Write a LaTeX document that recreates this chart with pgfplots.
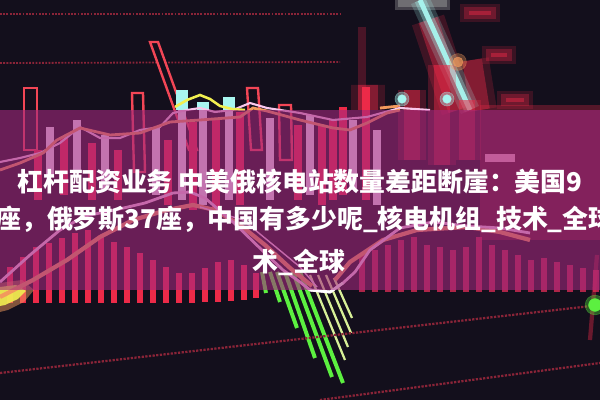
\documentclass[border=0pt]{standalone}
\usepackage{fontspec}
\usepackage{pgfplots}
\pgfplotsset{compat=1.18}
\newfontfamily\cjk{Noto Sans CJK SC}
\definecolor{bg}{HTML}{130F1C}
\definecolor{dotred}{HTML}{8A2438}
\definecolor{redbar}{HTML}{EC2A48}
\definecolor{redbar2}{HTML}{C82A50}
\definecolor{hollow}{HTML}{F24656}
\definecolor{lav}{HTML}{F4E4FA}
\definecolor{cyanbar}{HTML}{A8F6F0}
\definecolor{bandc}{HTML}{A3287E}
\definecolor{orangel}{HTML}{F29A5C}
\definecolor{pinkl}{HTML}{FAC8EC}
\definecolor{yell}{HTML}{F2F050}
\definecolor{greenb}{HTML}{5CF040}
\definecolor{yelgreen}{HTML}{D8F098}
\begin{document}
\begin{tikzpicture}
\begin{axis}[scale only axis, width=15cm, height=10cm,
  xmin=0, xmax=600, ymin=0, ymax=400, y dir=reverse,
  hide axis, clip=true, unbounded coords=jump]
% background
\addplot[fill=bg, draw=none] coordinates {(0,0)(600,0)(600,400)(0,400)} -- cycle;
% top dotted lines
\addplot[draw=dotred, densely dotted, line width=1.3pt] coordinates {(0,14)(340,14)};
\addplot[draw=dotred, densely dotted, line width=1.3pt] coordinates {(0,63)(340,62)};
% right top blurred glows
\addplot[draw=redbar, line width=13pt, opacity=0.18] coordinates {(460,13)(500,13)(0,nan)(482,55)(516,55)(0,nan)(497,100)(533,100)};
\addplot[draw=redbar, line width=8pt, opacity=0.3] coordinates {(464,13)(496,13)(0,nan)(486,55)(512,55)(0,nan)(501,100)(529,100)};
\addplot[draw=redbar, line width=3.5pt, opacity=0.45] coordinates {(469,13)(491,13)(0,nan)(491,55)(507,55)(0,nan)(506,100)(524,100)};
\addplot[draw=redbar, line width=24pt, opacity=0.2] coordinates {(428,20)(458,110)(0,nan)(472,60)(480,110)(0,nan)(368,85)(368,110)};
\addplot[draw=redbar, line width=14pt, opacity=0.4] coordinates {(428,20)(458,110)(0,nan)(472,60)(480,110)(0,nan)(368,85)(368,110)};
\addplot[draw=redbar, line width=5pt, opacity=0.25] coordinates {(362,27)(362,110)};
\addplot[draw=gray!70, line width=10pt, opacity=0.35] coordinates {(395,3)(450,3)};
\addplot[draw=gray!80, line width=5pt, opacity=0.5] coordinates {(398,3)(447,3)};
\addplot[draw=cyanbar, line width=14pt, opacity=0.2] coordinates {(420,0)(470,110)};
\addplot[draw=cyanbar, line width=8pt, opacity=0.35] coordinates {(420,0)(470,110)};
\addplot[draw=cyanbar, line width=3.5pt, opacity=0.95] coordinates {(420,0)(470,110)};
\addplot[only marks, mark=*, mark size=6pt, color=orangel, opacity=0.35] coordinates {(458,62)};
\addplot[only marks, mark=*, mark size=3.5pt, color=orangel, opacity=0.7] coordinates {(458,62)};
\addplot[only marks, mark=*, mark size=5pt, color=cyanbar, opacity=0.4] coordinates {(402,99)(447,99)};
\addplot[only marks, mark=*, mark size=3pt, color=cyanbar] coordinates {(402,99)(447,99)};
\addplot[draw=orangel, line width=2pt] coordinates {(380,108)(400,106)};
% hollow bars
\addplot[draw=hollow, line width=1.7pt, fill=bg] coordinates {(24,88)(37,88)(37,150)(24,150)} -- cycle;
\addplot[draw=hollow, line width=1.7pt, fill=bg] coordinates {(132,93)(143,93)(145,172)(134,172)} -- cycle;
\addplot[draw=hollow, line width=1.7pt, fill=bg] coordinates {(150,42)(158,42)(197,150)(189,150)} -- cycle;
\addplot[draw=hollow, line width=1.7pt, fill=bg] coordinates {(247,88)(258,88)(262,150)(251,150)} -- cycle;
\addplot[draw=hollow, line width=1.7pt, fill=bg] coordinates {(279,105)(291,105)(292,160)(280,160)} -- cycle;
% cyan bar tops
\addplot[draw=cyanbar, line width=8.5pt] coordinates {(182,90)(182,110)(0,nan)(203,102)(203,110)(0,nan)(229,97)(229,110)};
% lavender bars
\addplot[draw=lav, line width=6pt] coordinates {(50,127)(50,175)(0,nan)(77,120)(77,170)(0,nan)(105,135)(105,190)(0,nan)(156,128)(156,195)(0,nan)(182,110)(182,200)(0,nan)(203,110)(203,205)(0,nan)(229,110)(229,200)(0,nan)(270,118)(270,200)(0,nan)(310,115)(310,195)(0,nan)(353,120)(353,190)(0,nan)(377,130)(377,205)(0,nan)(485,158)(515,158)};
% red bars upper cluster
\addplot[draw=redbar, line width=5.5pt] coordinates {(38,150)(38,200)(0,nan)(64,137)(64,195)(0,nan)(92,143)(92,200)(0,nan)(118,150)(118,200)(0,nan)(168,140)(168,205)(0,nan)(193,122)(193,210)(0,nan)(216,118)(216,210)(0,nan)(240,112)(240,205)(0,nan)(298,125)(298,200)(0,nan)(322,125)(322,205)(0,nan)(333,120)(333,200)(0,nan)(343,107)(343,195)(0,nan)(366,87)(366,200)};
\addplot[draw=redbar, line width=20pt, opacity=0.25] coordinates {(412,90)(412,160)(0,nan)(442,65)(442,165)(0,nan)(467,100)(467,160)};
\addplot[draw=redbar, line width=11pt, opacity=0.45] coordinates {(412,90)(412,160)(0,nan)(442,65)(442,165)(0,nan)(467,100)(467,160)};
% right glow
\addplot[fill=redbar, draw=none, opacity=0.3] coordinates {(480,105)(600,105)(600,240)(480,240)} -- cycle;
% lower red bars
\addplot[draw=redbar, line width=4.3pt] coordinates {(10,267)(10,303)(0,nan)(23,257)(23,303)(0,nan)(36,247)(36,303)(0,nan)(49,243)(49,303)(0,nan)(62,238)(62,303)(0,nan)(75,233)(75,303)(0,nan)(88,230)(88,303)(0,nan)(101,237)(101,303)(0,nan)(114,242)(114,303)(0,nan)(127,247)(127,303)(0,nan)(140,253)(140,303)(0,nan)(153,260)(153,303)(0,nan)(166,267)(166,303)(0,nan)(179,273)(179,303)(0,nan)(192,273)(192,303)(0,nan)(205,268)(205,302)(0,nan)(218,262)(218,302)(0,nan)(231,260)(231,301)(0,nan)(244,265)(244,300)(0,nan)(256,273)(256,298)};
\addplot[draw=redbar2, line width=4pt, opacity=0.85] coordinates {(362,255)(362,292)(0,nan)(375,250)(375,292)(0,nan)(388,245)(388,292)(0,nan)(401,240)(401,292)(0,nan)(414,237)(414,292)(0,nan)(427,245)(427,292)(0,nan)(440,247)(440,292)(0,nan)(453,250)(453,292)(0,nan)(466,247)(466,292)(0,nan)(479,237)(479,292)(0,nan)(492,245)(492,292)(0,nan)(505,250)(505,292)(0,nan)(518,255)(518,292)(0,nan)(531,260)(531,292)(0,nan)(544,258)(544,292)(0,nan)(557,262)(557,292)(0,nan)(570,265)(570,292)(0,nan)(583,268)(583,292)(0,nan)(596,270)(596,292)};
% yellow glow lower left
\addplot[fill=orangel, draw=none, opacity=0.5] coordinates {(0,283)(22,280)(34,290)(24,302)(8,310)(0,312)} -- cycle;
\addplot[fill=yell, draw=none, opacity=0.9] coordinates {(0,287)(16,285)(26,291)(18,299)(5,305)(0,306)} -- cycle;
% green bars
\addplot[draw=greenb, line width=2.8pt] coordinates {(262,272)(266,293)(0,nan)(270,272)(280,302)(0,nan)(277,272)(297,328)(0,nan)(285,272)(315,358)(0,nan)(293,272)(332,377)(0,nan)(300,272)(343,383)};
\addplot[draw=yelgreen, line width=1.6pt] coordinates {(310,275)(345,360)(0,nan)(318,275)(348,347)(0,nan)(326,275)(351,333)(0,nan)(334,278)(352,318)};
% lines
\addplot[draw=pinkl, line width=1.5pt] coordinates {(0,162)(20,158)(40,153)(60,143)(80,127)(100,138)(120,138)(140,130)(160,127)(173,113)(187,110)(200,108)(215,112)(233,110)(250,103)(267,108)(300,113)(333,120)(367,117)(400,108)(430,110)};
\addplot[draw=orangel, line width=2pt] coordinates {(0,170)(20,163)(43,153)(57,140)(80,128)(110,135)(140,133)(170,122)(200,120)(240,117)(253,108)(267,111)(300,120)(333,128)(350,130)(367,123)(387,113)(400,110)};
\addplot[draw=yell, line width=1.8pt] coordinates {(175,107)(187,100)(200,95)(210,99)(220,106)(232,109)(245,110)};
\addplot[draw=orangel, line width=3pt] coordinates {(0,297)(33,280)(67,260)(100,237)(133,220)(167,210)(193,205)(215,210)(240,225)(265,245)(290,268)(312,286)(0,nan)(335,280)(350,262)(383,240)(417,230)(467,227)(500,232)(530,240)};
\addplot[draw=pinkl, line width=2pt] coordinates {(0,282)(30,255)(60,230)(85,216)(115,210)(145,203)(173,193)(190,192)(205,198)(233,222)(267,255)(283,270)(300,282)(310,290)(330,292)(343,283)(355,272)(370,250)(400,228)(433,222)(467,226)(500,228)(530,233)};
\addplot[draw=pinkl, line width=1pt] coordinates {(200,207)(243,220)(300,267)(317,287)};
\addplot[draw=white, line width=2pt] coordinates {(310,290)(330,292)(343,283)};
% bottom dotted lines
\addplot[draw=dotred, densely dotted, line width=1.6pt] coordinates {(0,373)(600,305)};
\addplot[draw=dotred, densely dotted, line width=1.6pt] coordinates {(320,400)(600,363)};
\addplot[draw=redbar, line width=3pt, opacity=0.4] coordinates {(597,255)(590,340)};
\addplot[only marks, mark=*, mark size=7pt, color=greenb, opacity=0.35] coordinates {(595,305)};
\addplot[only marks, mark=*, mark size=4.5pt, color=greenb] coordinates {(595,305)};
% band
\addplot[fill=bandc, draw=none, fill opacity=0.6] coordinates {(0,110)(600,110)(600,290)(0,290)} -- cycle;
\coordinate (A) at (axis cs:0,400);
\coordinate (B) at (axis cs:600,0);
\node[text=white, inner sep=0pt, font=\cjk\bfseries\fontsize{18.4}{22}\selectfont] at (axis cs:300,182) {杠杆配资业务 中美俄核电站数量差距断崖：美国9};
\node[text=white, inner sep=0pt, font=\cjk\bfseries\fontsize{18.4}{22}\selectfont] at (axis cs:297,219) {4座，俄罗斯37座，中国有多少呢\_核电机组\_技术\_全球};
\node[text=white, inner sep=0pt, font=\cjk\bfseries\fontsize{18.4}{22}\selectfont] at (axis cs:299,262) {术\_全球};
\end{axis}
\pgfresetboundingbox
\useasboundingbox (A) rectangle (B);
\end{tikzpicture}
\end{document}
